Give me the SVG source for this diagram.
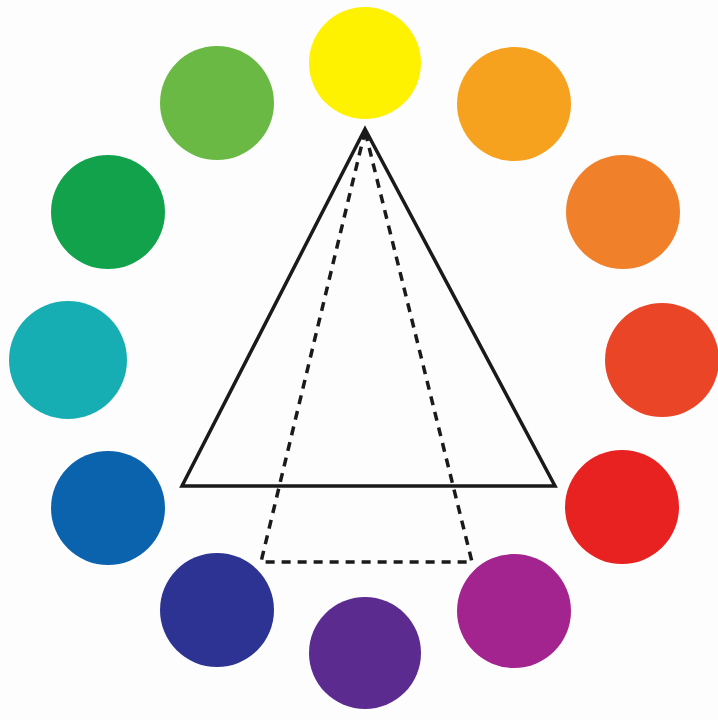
<svg xmlns="http://www.w3.org/2000/svg" width="718" height="720" viewBox="0 0 718 720">
<style>
.dot{stroke:none}
.solid{fill:none;stroke:#1a1a1a;stroke-width:3.5;stroke-linejoin:miter}
.dash{fill:none;stroke:#1a1a1a;stroke-width:3.5;stroke-dasharray:9 7}
</style>
<rect width="718" height="720" fill="#fdfdfd"/>
<g id="yellow"><circle class="dot" cx="365" cy="63" r="56" fill="#fff200"/></g>
<g id="yellow-orange"><circle class="dot" cx="514" cy="104" r="57" fill="#f7a21f"/></g>
<g id="orange"><circle class="dot" cx="623" cy="212" r="57" fill="#f1802a"/></g>
<g id="red-orange"><circle class="dot" cx="662" cy="360" r="57" fill="#ea4526"/></g>
<g id="red"><circle class="dot" cx="622" cy="507" r="57" fill="#e72220"/></g>
<g id="red-violet"><circle class="dot" cx="514" cy="611" r="57" fill="#a3238f"/></g>
<g id="violet"><circle class="dot" cx="365" cy="653" r="56" fill="#5b2b90"/></g>
<g id="blue-violet"><circle class="dot" cx="217" cy="610" r="57" fill="#2d3393"/></g>
<g id="blue"><circle class="dot" cx="108" cy="508" r="57" fill="#0c63ad"/></g>
<g id="blue-green"><circle class="dot" cx="68" cy="360" r="59" fill="#17aeb3"/></g>
<g id="green"><circle class="dot" cx="108" cy="212" r="57" fill="#11a24b"/></g>
<g id="yellow-green"><circle class="dot" cx="217" cy="103" r="57" fill="#6bb945"/></g>
<g id="connectors">
<polygon class="solid" points="365,129 182,486 555,486"/>
<polyline class="dash" points="365,131 261,562 472,562 365,131"/>
</g>
</svg>
